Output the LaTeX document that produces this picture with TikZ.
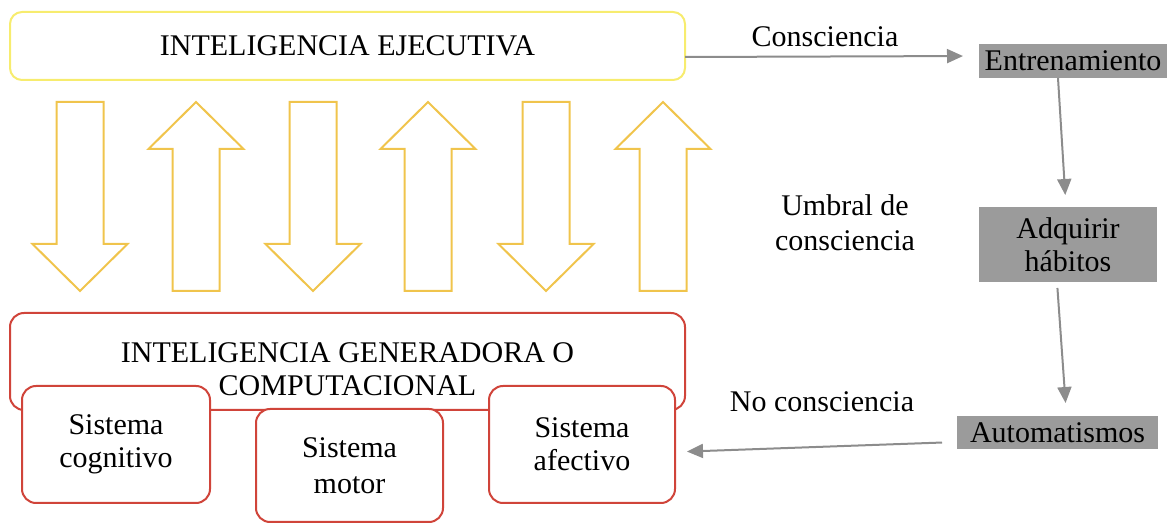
\documentclass[tikz,border=0pt]{standalone}
\usepackage{fontspec}
\setmainfont{Liberation Serif}
\usetikzlibrary{arrows.meta}
\definecolor{ejecYellow}{RGB}{247,236,110}
\definecolor{flechaAmber}{RGB}{240,196,76}
\definecolor{genRed}{RGB}{208,68,58}
\definecolor{pasoGray}{RGB}{155,155,155}
\definecolor{lineaGray}{RGB}{140,140,140}

\begin{document}
\begin{tikzpicture}%
		[x=0.5pt, y=-0.5pt,
		>={Triangle[length=8pt,width=7pt]},
		font=\fontsize{15}{16.5}\selectfont,
		every node/.style={inner sep=0pt, outer sep=0pt}
		]
		\tikzstyle{ejec}=[draw=ejecYellow, line width=1pt, rounded corners=6pt, minimum width=337.5pt, minimum height=34pt]
		\tikzstyle{gen}=[draw=genRed, line width=1pt, rounded corners=7pt, fill=white]
		\tikzstyle{paso}=[fill=pasoGray, align=center]
		\tikzstyle{flujo}=[draw=lineaGray, line width=1pt, ->]
		\tikzstyle{bloque}=[draw=flechaAmber, line width=1pt]
		\useasboundingbox (0,0) rectangle (1174,523);

		% left column
		\node[ejec] (Ejecutiva) at (347.5,46) {INTELIGENCIA EJECUTIVA};
		\node[gen, minimum width=337.5pt, minimum height=48.5pt] (Generadora) at (347.5,361.5) {};
		\node[align=center] (GenLabel) at (347.5,369) {INTELIGENCIA GENERADORA O\\COMPUTACIONAL};
		\node[gen, minimum width=94pt, minimum height=58.5pt, align=center] (Cognitivo) at (116,444.5) {Sistema\\cognitivo};
		\node[gen, minimum width=93.5pt, minimum height=56.5pt, align=center, font=\fontsize{15}{18}\selectfont] (Motor) at (349.5,465.5) {Sistema\\motor};
		\node[gen, minimum width=93pt, minimum height=58.5pt, align=center] (Afectivo) at (582,444.5) {Sistema\\afectivo};

		% block arrows between both levels
		\foreach \cx/\dir in {80/1, 196/-1, 313/1, 428/-1, 546/1, 663/-1} {
			\pgfmathsetmacro{\base}{196.5-94.5*\dir}
			\pgfmathsetmacro{\tip}{196.5+94.5*\dir}
			\pgfmathsetmacro{\neck}{\tip-47*\dir}
			\draw[bloque] (\cx-23.5,\base) -- (\cx+23.5,\base) -- (\cx+23.5,\neck) -- (\cx+47.5,\neck)
				-- (\cx,\tip) -- (\cx-47.5,\neck) -- (\cx-23.5,\neck) -- cycle;
		}

		% right column
		\node[paso, minimum width=94pt, minimum height=17pt] (Entrenamiento) at (1073,61) {Entrenamiento};
		\node[paso, minimum width=89pt, minimum height=37.5pt] (Adquirir) at (1068,244.5) {Adquirir\\hábitos};
		\node[paso, minimum width=100.5pt, minimum height=16.5pt] (Automatismos) at (1057.5,432.5) {Automatismos};

		\node (Consciencia) at (825,37) {Consciencia};
		\node[align=center, font=\fontsize{15}{17.5}\selectfont] (Umbral) at (845,223) {Umbral de\\consciencia};
		\node (NoConsciencia) at (822,402) {No consciencia};

		\draw[flujo, shorten >=8pt] ([yshift=-5.5pt]Ejecutiva.east) -- ([yshift=2.5pt]Entrenamiento.west);
		\draw[flujo, shorten >=6pt] ([xshift=-7.5pt]Entrenamiento.south) -- ([xshift=-1pt]Adquirir.north);
		\draw[flujo, shorten <=3pt, shorten >=6.5pt] ([xshift=-5.5pt]Adquirir.south) -- ([xshift=4.5pt]Automatismos.north);
		\draw[flujo, shorten <=7.5pt, shorten >=6pt] ([yshift=-4.75pt]Automatismos.west) -- ([yshift=-3.75pt]Afectivo.east);
\end{tikzpicture}
\end{document}
